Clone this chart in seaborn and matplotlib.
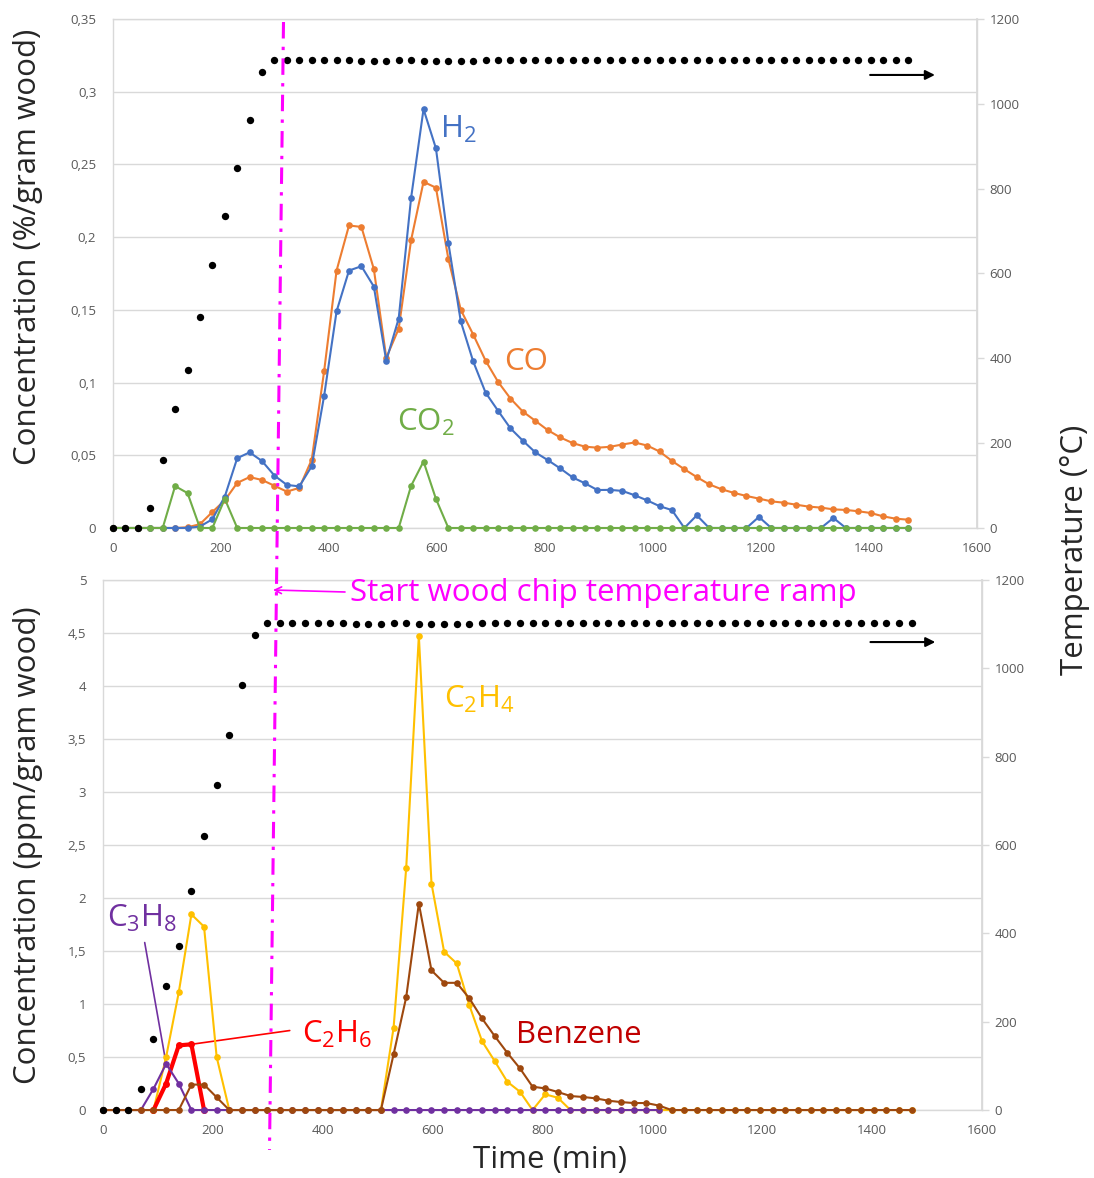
import numpy as np
import matplotlib
matplotlib.use("Agg")
import matplotlib.pyplot as plt
from matplotlib.lines import Line2D
import seaborn as sns

# ---------------------------------------------------------------- data
time_min = [0, 23, 46, 69, 92, 115, 138, 161, 184, 207, 230, 253, 276, 299, 322,
            345, 368, 391, 414, 437, 460, 483, 506, 529, 552, 575, 598, 621, 644,
            667, 690, 713, 736, 759, 782, 805, 828, 851, 874, 897, 920, 943, 966,
            989, 1012, 1035, 1058, 1081, 1104, 1127, 1150, 1173, 1196, 1219, 1242,
            1265, 1288, 1311, 1334, 1357, 1380, 1403, 1426, 1449, 1472]

temperature_c = [0, 0, 0, 48, 161, 280, 372, 497, 620, 735, 849, 962, 1075, 1103,
                 1103, 1103, 1103, 1103, 1103, 1103, 1100, 1100, 1100, 1103, 1103,
                 1100, 1100, 1100, 1100, 1100, 1103, 1103, 1103, 1103, 1103, 1103,
                 1103, 1103, 1103, 1103, 1103, 1103, 1103, 1103, 1103, 1103, 1103,
                 1103, 1103, 1103, 1103, 1103, 1103, 1103, 1103, 1103, 1103, 1103,
                 1103, 1103, 1103, 1103, 1103, 1103, 1103]

# permanent gases (%/gram wood)
h2 = [0, 0, 0, 0, 0, 0, 0, 0.001, 0.006, 0.0216, 0.048, 0.052, 0.046, 0.036,
      0.0296, 0.0286, 0.0425, 0.091, 0.149, 0.177, 0.180, 0.166, 0.115, 0.144,
      0.227, 0.288, 0.261, 0.196, 0.142, 0.1145, 0.093, 0.0806, 0.0685, 0.060,
      0.052, 0.0467, 0.041, 0.0348, 0.0307, 0.0261, 0.0262, 0.0255, 0.0225,
      0.019, 0.015, 0.0123, 0, 0.0087, 0, 0, 0, 0, 0.0076, 0, 0, 0, 0, 0,
      0.0069, 0, 0, 0, 0, 0, 0]
co = [0, 0, 0, 0, 0, 0, 0.0005, 0.0026, 0.011, 0.019, 0.031, 0.035, 0.033,
      0.029, 0.025, 0.0276, 0.047, 0.108, 0.177, 0.208, 0.207, 0.178, 0.117,
      0.137, 0.198, 0.238, 0.234, 0.185, 0.150, 0.133, 0.115, 0.1005, 0.089,
      0.080, 0.0737, 0.0673, 0.0623, 0.0584, 0.0559, 0.0552, 0.0558, 0.0574,
      0.0588, 0.0567, 0.0526, 0.0461, 0.0404, 0.035, 0.030, 0.0266, 0.0241,
      0.022, 0.0202, 0.0183, 0.0174, 0.016, 0.0147, 0.014, 0.0128, 0.0124,
      0.0115, 0.0103, 0.008, 0.0064, 0.0057]
co2 = [0, 0, 0, 0, 0, 0.0288, 0.024, 0, 0, 0.020, 0, 0, 0, 0, 0, 0, 0, 0, 0,
       0, 0, 0, 0, 0, 0.029, 0.0457, 0.020, 0, 0, 0, 0, 0, 0, 0, 0, 0, 0, 0,
       0, 0, 0, 0, 0, 0, 0, 0, 0, 0, 0, 0, 0, 0, 0, 0, 0, 0, 0, 0, 0, 0, 0,
       0, 0, 0, 0]

# hydrocarbons (ppm/gram wood)
nan = np.nan
c2h4 = [0, 0, 0, 0, 0, 0.50, 1.11, 1.846, 1.73, 0.50, 0, 0, 0, 0, 0, 0, 0, 0,
        0, 0, 0, 0, 0, 0.776, 2.285, 4.475, 2.137, 1.493, 1.383, 0.987, 0.65,
        0.462, 0.267, 0.173, 0, 0.148, 0.116, 0, 0, 0, 0, 0, 0, 0, 0, 0, 0, 0,
        0, 0, 0, 0, 0, 0, 0, 0, 0, 0, 0, 0, 0, 0, 0, 0, 0]
c2h6 = [nan, nan, nan, nan, 0, 0.25, 0.61, 0.62, 0] + [nan] * 56
c3h8 = [0, 0, 0, 0, 0.20, 0.436, 0.25, 0, 0, 0, 0, 0, 0, 0, 0, 0, 0, 0, 0, 0,
        0, 0, 0, 0, 0, 0, 0, 0, 0, 0, 0, 0, 0, 0, 0, 0, 0, 0, 0, 0, 0, 0, 0,
        0, 0] + [nan] * 20
benzene = [0, 0, 0, 0, 0, 0, 0, 0.24, 0.24, 0.12, 0, 0, 0, 0, 0, 0, 0, 0, 0, 0,
           0, 0, 0, 0.525, 1.065, 1.948, 1.317, 1.20, 1.20, 1.053, 0.864, 0.698,
           0.54, 0.393, 0.22, 0.204, 0.170, 0.132, 0.123, 0.11, 0.088, 0.075,
           0.066, 0.066, 0.042, 0, 0, 0, 0, 0, 0, 0, 0, 0, 0, 0, 0, 0, 0, 0, 0,
           0, 0, 0, 0]

# axis ticks
time_ticks = [0, 200, 400, 600, 800, 1000, 1200, 1400, 1600]
temp_ticks = [0, 200, 400, 600, 800, 1000, 1200]
gas_ticks = [0, 0.05, 0.1, 0.15, 0.2, 0.25, 0.3, 0.35]
gas_tick_labels = ["0", "0,05", "0,1", "0,15", "0,2", "0,25", "0,3", "0,35"]
hc_ticks = [0, 0.5, 1, 1.5, 2, 2.5, 3, 3.5, 4, 4.5, 5]
hc_tick_labels = ["0", "0,5", "1", "1,5", "2", "2,5", "3", "3,5", "4", "4,5", "5"]

# ---------------------------------------------------------------- style
sns.set_theme(style="white")
plt.rcParams["font.family"] = ["Open Sans", "DejaVu Sans"]
plt.rcParams["mathtext.fontset"] = "custom"
plt.rcParams["mathtext.rm"] = "Open Sans"
plt.rcParams["mathtext.it"] = "Open Sans"
plt.rcParams["mathtext.bf"] = "Open Sans:bold"
plt.rcParams["mathtext.default"] = "rm"

GRID = "#D9D9D9"
TICK = "#595959"
LABEL = "#262626"
MAGENTA = "#FF00FF"
BIG = 22.5

W, H = 1094, 1178
fig = plt.figure(figsize=(W / 100, H / 100), dpi=100)
ax_top = fig.add_axes([0.1033, 0.5518, 0.7898, 0.4321])
ax_bot = fig.add_axes([0.0941, 0.0577, 0.8035, 0.4499])


def style_pair(ax, yticks, ylabels, ymax):
    ax.set_xlim(0, 1600)
    ax.set_ylim(0, ymax)
    ax.set_xticks(time_ticks)
    ax.set_xticklabels([str(t) for t in time_ticks])
    ax.set_yticks(yticks)
    ax.set_yticklabels(ylabels)
    ax.yaxis.grid(True, color=GRID, lw=1)
    ax.xaxis.grid(False)
    for s in ax.spines.values():
        s.set_color(GRID)
        s.set_linewidth(1)
        s.set_zorder(0.5)
    ax.tick_params(axis="both", length=0, labelsize=9.5, labelcolor=TICK)
    ax.tick_params(axis="x", pad=10)
    ax.tick_params(axis="y", pad=12)
    tw = ax.twinx()
    tw.set_ylim(0, 1200)
    tw.set_yticks(temp_ticks)
    tw.set_yticklabels([str(t) for t in temp_ticks])
    for name, s in tw.spines.items():
        s.set_visible(name == "right")
        s.set_color(GRID)
    tw.tick_params(axis="y", length=5, width=1, color=GRID, direction="out",
                   labelsize=9.5, labelcolor=TICK, pad=4)
    tw.grid(False)
    return tw


tw_top = style_pair(ax_top, gas_ticks, gas_tick_labels, 0.35)
tw_bot = style_pair(ax_bot, hc_ticks, hc_tick_labels, 5)

line_kw = dict(marker="o", markersize=4.8, markeredgewidth=0, linewidth=1.5,
               clip_on=False, zorder=3)
temp_kw = dict(color="black", s=28, linewidth=0, clip_on=False, zorder=3)

# ---------------------------------------------------------------- upper panel
sns.lineplot(x=time_min, y=co, ax=ax_top, color="#ED7D31", **line_kw)
sns.lineplot(x=time_min, y=h2, ax=ax_top, color="#4472C4", **line_kw)
sns.lineplot(x=time_min, y=co2, ax=ax_top, color="#70AD47", **line_kw)
sns.scatterplot(x=time_min, y=temperature_c, ax=tw_top, **temp_kw)

ax_top.text(605, 0.274, r"H$_2$", color="#4472C4", fontsize=BIG, va="center")
ax_top.text(724, 0.114, "CO", color="#ED7D31", fontsize=BIG, va="center")
ax_top.text(526, 0.0725, r"CO$_2$", color="#70AD47", fontsize=BIG, va="center")
ax_top.annotate("", xy=(1522, 0.3115), xytext=(1402, 0.3115),
                arrowprops=dict(arrowstyle="-|>", color="black", lw=1.5,
                                mutation_scale=14, shrinkA=0, shrinkB=0))

# ---------------------------------------------------------------- lower panel
sns.lineplot(x=time_min, y=c2h4, ax=ax_bot, color="#FFC000", **line_kw)
sns.lineplot(x=time_min, y=c2h6, ax=ax_bot, color="#FF0000", marker="o",
             markersize=5, markeredgewidth=0, linewidth=3, clip_on=False,
             zorder=3)
sns.lineplot(x=time_min, y=c3h8, ax=ax_bot, color="#7030A0", **line_kw)
sns.lineplot(x=time_min, y=benzene, ax=ax_bot, color="#9E480E", **line_kw)
sns.scatterplot(x=time_min, y=temperature_c, ax=tw_bot, **temp_kw)

ax_bot.text(621, 3.87, r"C$_2$H$_4$", color="#FFC000", fontsize=BIG, va="center")
ax_bot.text(7, 1.81, r"C$_3$H$_8$", color="#7030A0", fontsize=BIG, va="center")
ax_bot.text(362, 0.71, r"C$_2$H$_6$", color="#FF0000", fontsize=BIG, va="center")
ax_bot.text(752, 0.71, "Benzene", color="#C00000", fontsize=BIG, va="center")
ax_bot.plot([76, 115], [1.58, 0.436], color="#7030A0", lw=1.2)
ax_bot.plot([161, 340], [0.62, 0.75], color="#FF0000", lw=1.2)
ax_bot.annotate("", xy=(1515, 4.415), xytext=(1397, 4.415),
                arrowprops=dict(arrowstyle="-|>", color="black", lw=1.5,
                                mutation_scale=14, shrinkA=0, shrinkB=0))

# ---------------------------------------------------------------- shared labels
fig.text(28 / W, 1 - 247 / H, "Concentration (%/gram wood)", rotation=90,
         ha="center", va="center", fontsize=BIG, color=LABEL)
fig.text(28 / W, 1 - 845 / H, "Concentration (ppm/gram wood)", rotation=90,
         ha="center", va="center", fontsize=BIG, color=LABEL)
fig.text(1075 / W, 1 - 550 / H, "Temperature (°C)", rotation=90,
         ha="center", va="center", fontsize=BIG, color=LABEL)
fig.text(550 / W, 1 - 1160 / H, "Time (min)", ha="center", va="center",
         fontsize=BIG, color=LABEL)

# start of the wood chip ramp, crossing both panels
fig.add_artist(Line2D([283.5 / W, 269.5 / W], [1 - 22 / H, 1 - 1150 / H],
                      transform=fig.transFigure, color=MAGENTA, lw=2.2,
                      dashes=(5.4, 2.7, 1.1, 2.7)))
fig.text(350 / W, 1 - 593 / H, "Start wood chip temperature ramp",
         color=MAGENTA, fontsize=BIG, ha="left", va="center")
ax_bot.annotate("", xy=(273 / W, 1 - 590 / H), xytext=(345 / W, 1 - 592 / H),
                xycoords="figure fraction", textcoords="figure fraction",
                annotation_clip=False,
                arrowprops=dict(arrowstyle="->", color=MAGENTA, lw=1.2,
                                shrinkA=0, shrinkB=0))

fig.savefig("out.png", dpi=100)
